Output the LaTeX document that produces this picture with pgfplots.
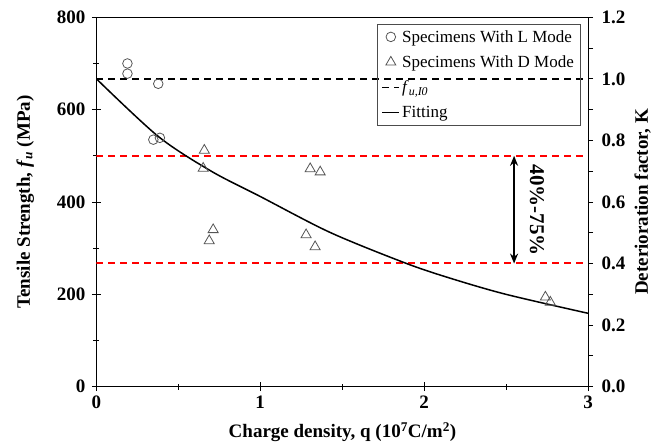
\documentclass[border=0pt]{standalone}
\usepackage{pgfplots}
\pgfplotsset{compat=1.18}
\usetikzlibrary{arrows.meta}
\usepackage{fontspec}
\setmainfont{Liberation Serif}
\definecolor{mkgray}{RGB}{85,85,85}
\definecolor{dred}{RGB}{255,0,0}
\begin{document}
\begin{tikzpicture}
\pgfplotsset{
  every axis/.append style={
    scale only axis, width=491.7pt, height=369.4pt,
    xmin=0, xmax=3,
    /pgf/number format/assume math mode=true,
    tick label style={font=\bfseries\fontsize{19}{19}\selectfont},
    label style={font=\bfseries\fontsize{19}{21}\selectfont},
    axis line style={line width=0.9pt},
    every tick/.style={black, line width=0.9pt},
  }
}
\begin{axis}[
  name=main,
  ymin=0, ymax=800,
  xtick={0,1,2,3}, minor xtick={0.5,1.5,2.5},
  ytick={0,200,400,600,800}, minor ytick={100,300,500,700},
  xtick pos=bottom, ytick pos=left,
  tick align=center,
  major tick length=9pt, minor tick length=6pt,
  xticklabel style={yshift=-1pt},
  yticklabel style={xshift=-3pt},
  xlabel={Charge density, q (10\textsuperscript{7}C/m\textsuperscript{2})},
  ylabel={Tensile Strength, \textit{f}\textsubscript{\textit{u}} (MPa)},
  xlabel style={at={(axis description cs:0.5007,-0.1235)}, anchor=center},
  ylabel style={at={(axis description cs:-0.1444,0.5)}, anchor=center},
  legend style={at={(axis description cs:0.984,0.982)}, anchor=north east,
    fill=none, draw=black!70, line width=0.6pt,
    font=\fontsize{17}{19}\selectfont, row sep=8pt,
    inner xsep=4pt, inner ysep=4pt},
  legend cell align=left,
]
\addplot[draw=dred, line width=2pt, dash pattern=on 7pt off 5pt, forget plot] coordinates {(0,500) (3,500)};
\addplot[draw=dred, line width=2pt, dash pattern=on 7pt off 5pt, forget plot] coordinates {(0,267.5) (3,267.5)};
\addplot[only marks, mark=o, mark size=4.8pt, mkgray, mark options={line width=0.8pt}]
coordinates {(0.19,700) (0.19,678) (0.378,656) (0.348,535) (0.388,539)};
\addlegendentry{Specimens With L Mode}
\addplot[only marks, mark=triangle, mark size=5.8pt, mkgray, mark options={line width=0.8pt}]
coordinates {(0.659,512) (0.652,473) (0.713,340) (0.689,316) (1.305,472) (1.366,465) (1.28,329) (1.335,303) (2.74,194) (2.77,183)};
\addlegendentry{Specimens With D Mode}
\addplot[black, line width=1.6pt, dash pattern=on 7pt off 5pt, forget plot] coordinates {(0,666.7) (3,666.7)};
\addlegendimage{black, line width=1.6pt, dash pattern=on 7pt off 5pt}
\addlegendentry{\textit{f}\textsubscript{\textit{u,I0}}}
\addplot[black, line width=1.5pt, smooth] coordinates {
(0,667) (0.378,542) (0.7,467) (1.0,412) (1.427,334) (1.884,268) (2.159,235) (2.5,200) (3.0,159)};
\addlegendentry{Fitting}
\end{axis}
\begin{axis}[
  ymin=0, ymax=1.2,
  axis y line*=right, axis x line=none,
  ytick={0,0.2,...,1.2}, minor ytick={0.1,0.3,0.5,0.7,0.9,1.1},
  tick align=outside, major tick length=5pt, minor tick length=5pt,
  yticklabel style={/pgf/number format/fixed, /pgf/number format/fixed zerofill, /pgf/number format/precision=1, xshift=5pt},
  ylabel={Deterioration factor, K},
  ylabel style={at={(axis description cs:1.111,0.5)}, anchor=center},
]
\addplot[black, line width=1.6pt, -{Stealth[length=10pt,width=8pt]}] coordinates {(2.549,0.575) (2.549,0.4)};
\addplot[black, line width=1.6pt, -{Stealth[length=10pt,width=8pt]}] coordinates {(2.549,0.575) (2.549,0.75)};
\node[rotate=-90, font=\bfseries\fontsize{21}{21}\selectfont] at (axis cs:2.689,0.574) {40\%-75\%};
\coordinate (sw) at (rel axis cs:0,0);
\coordinate (ne) at (rel axis cs:1,1);
\end{axis}
\pgfresetboundingbox
\path ([shift={(-96.3pt,-58.3pt)}]sw) rectangle ([shift={(65pt,17.3pt)}]ne);
\end{tikzpicture}
\end{document}
